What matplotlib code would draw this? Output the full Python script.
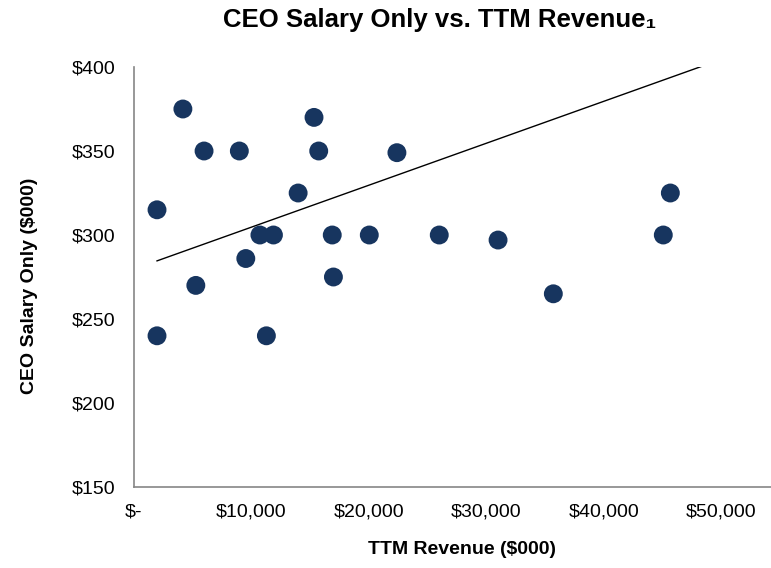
import numpy as np
import matplotlib
matplotlib.use("Agg")
import matplotlib.pyplot as plt
from matplotlib.ticker import FuncFormatter

plt.rcParams["font.family"] = ["Liberation Sans", "DejaVu Sans"]

# ── data ─────────────────────────────────────────────────────────────────────
revenue = [2000, 4200, 6000, 9000, 15350, 15750, 22400, 14000, 10750, 11900,
           16900, 20050, 26000, 9550, 17000, 5300, 2000, 11300, 31000, 35700,
           45050, 45650]
salary = [315, 375, 350, 350, 370, 350, 349, 325, 300, 300,
          300, 300, 300, 286, 275, 270, 240, 240, 297, 265,
          300, 325]

# trend line as shown on the chart (linear, clipped at the top of the plot)
TREND_SLOPE = 0.0025
TREND_INTERCEPT = 279.6

x_ticks = [0, 10000, 20000, 30000, 40000, 50000]
y_ticks = [150, 200, 250, 300, 350, 400]

NAVY = "#17355F"
GREY = "#868686"

# ── plot ─────────────────────────────────────────────────────────────────────
fig = plt.figure(figsize=(7.71, 5.68), dpi=100)
ax = fig.add_axes([133.5 / 771, 1 - 487 / 568, (780.3 - 133.5) / 771, (487 - 67) / 568])

ax.scatter(revenue, salary, s=185, color=NAVY, edgecolors="none", zorder=3)

tx = np.array([min(revenue), 55000])
ax.plot(tx, TREND_INTERCEPT + TREND_SLOPE * tx, color="black", lw=1.0, zorder=2)

ax.set_xlim(0, 55000)
ax.set_ylim(150, 400)
ax.set_xticks(x_ticks)
ax.set_yticks(y_ticks)
ax.xaxis.set_major_formatter(FuncFormatter(lambda v, p: "$-" if v == 0 else f"${v:,.0f}"))
ax.yaxis.set_major_formatter(FuncFormatter(lambda v, p: f"${v:.0f}"))
ax.tick_params(axis="both", length=0, labelsize=14)
ax.tick_params(axis="x", pad=12)
ax.tick_params(axis="y", pad=13)

for side in ("top", "right"):
    ax.spines[side].set_visible(False)
for side in ("left", "bottom"):
    ax.spines[side].set_color(GREY)
    ax.spines[side].set_linewidth(1.2)

fig.text(440 / 771, 1 - 20 / 568, "CEO Salary Only vs. TTM Revenue\u2081",
         ha="center", va="center", fontsize=18.5, fontweight="bold")
fig.text(462 / 771, 1 - 550 / 568, "TTM Revenue ($000)",
         ha="center", va="center", fontsize=14, fontweight="bold")
fig.text(30 / 771, 1 - 286 / 568, "CEO Salary Only ($000)",
         ha="center", va="center", fontsize=14, fontweight="bold", rotation=90)

fig.savefig("out.png", dpi=100)
